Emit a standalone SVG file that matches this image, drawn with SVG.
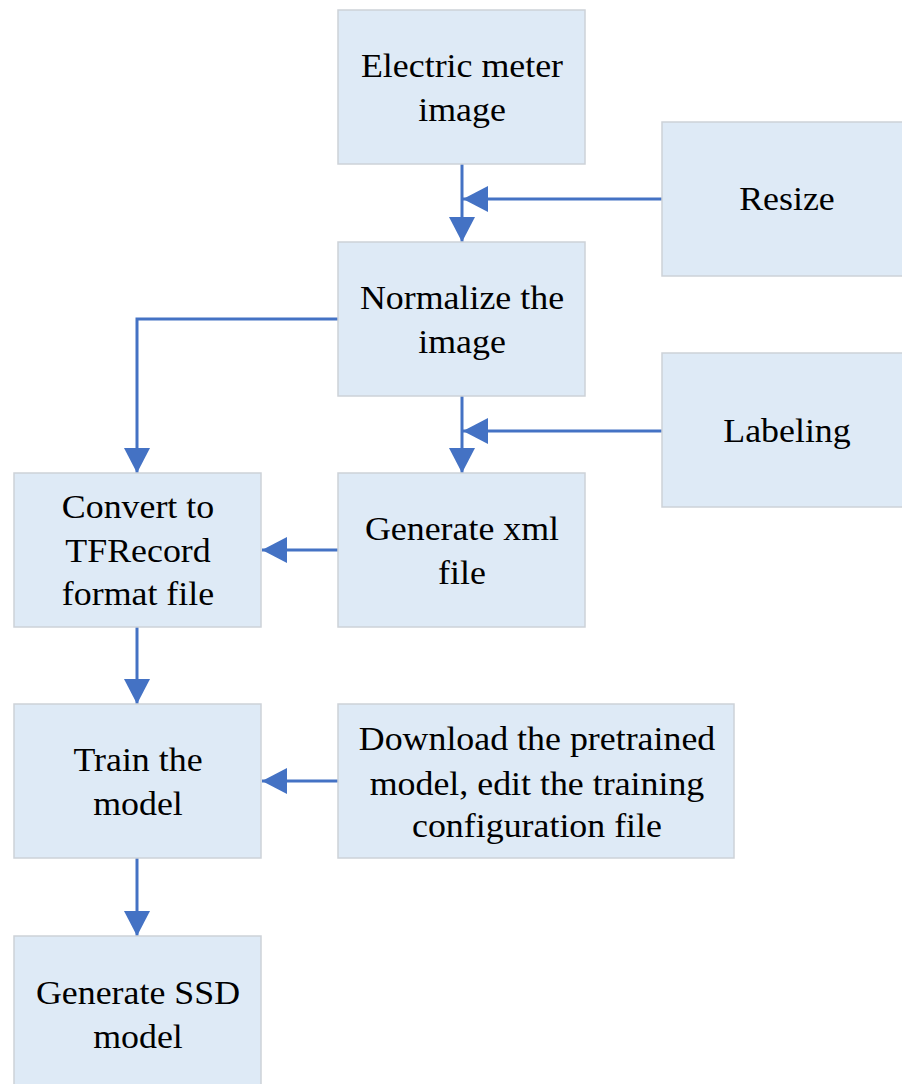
<svg xmlns="http://www.w3.org/2000/svg" width="902" height="1084" viewBox="0 0 902 1084">
<defs>
<marker id="ah" markerUnits="userSpaceOnUse" markerWidth="25" markerHeight="26" viewBox="0 0 25 26" refX="25" refY="13" orient="auto">
<path d="M0,0 L25,13 L0,26 z" fill="#4472C4"/>
</marker>
</defs>
<rect width="902" height="1084" fill="#fff"/>
<g id="connectors" fill="none" stroke="#4472C4" stroke-width="3" marker-end="url(#ah)">
<path d="M462,164 V242"/>
<path d="M662,199 H463"/>
<path d="M338,319 H137 V473"/>
<path d="M462,396 V473"/>
<path d="M662,431 H463"/>
<path d="M338,550 H262"/>
<path d="M137,627 V704"/>
<path d="M338,781 H262"/>
<path d="M137,858 V936"/>
</g>
<g id="nodes">
<g fill="#DEEAF6" stroke="#CDD2D8" stroke-width="1.5">
<rect id="r-electric" x="338" y="10" width="247" height="154"/>
<rect id="r-resize" x="662" y="122" width="245" height="154"/>
<rect id="r-normalize" x="338" y="242" width="247" height="154"/>
<rect id="r-labeling" x="662" y="353" width="245" height="154"/>
<rect id="r-convert" x="14" y="473" width="247" height="154"/>
<rect id="r-xml" x="338" y="473" width="247" height="154"/>
<rect id="r-train" x="14" y="704" width="247" height="154"/>
<rect id="r-download" x="338" y="704" width="396" height="154"/>
<rect id="r-ssd" x="14" y="936" width="247" height="154"/>
</g>
<g font-family="Liberation Serif" font-size="33" fill="#000" text-anchor="middle">
<g id="n-electric" transform="matrix(1.087,0,0,1,-40.19,0)"><text x="462" y="77">Electric meter</text><text x="462" y="121">image</text></g>
<g id="n-resize" transform="matrix(1.087,0,0,1,-68.47,0)"><text x="787" y="210">Resize</text></g>
<g id="n-normalize" transform="matrix(1.087,0,0,1,-40.19,0)"><text x="462" y="309">Normalize the</text><text x="462" y="353">image</text></g>
<g id="n-labeling" transform="matrix(1.087,0,0,1,-68.47,0)"><text x="787" y="442">Labeling</text></g>
<g id="n-convert" transform="matrix(1.087,0,0,1,-12.01,0)"><text x="138" y="518">Convert to</text><text x="138" y="562">TFRecord</text><text x="138" y="605">format file</text></g>
<g id="n-xml" transform="matrix(1.087,0,0,1,-40.19,0)"><text x="462" y="540">Generate xml</text><text x="462" y="584">file</text></g>
<g id="n-train" transform="matrix(1.087,0,0,1,-12.01,0)"><text x="138" y="771">Train the</text><text x="138" y="815">model</text></g>
<g id="n-download" transform="matrix(1.087,0,0,1,-46.72,0)"><text x="537" y="750">Download the pretrained</text><text x="537" y="795">model, edit the training</text><text x="537" y="837">configuration file</text></g>
<g id="n-ssd" transform="matrix(1.087,0,0,1,-12.01,0)"><text x="138" y="1004">Generate SSD</text><text x="138" y="1048">model</text></g>
</g>
</g>
</svg>
